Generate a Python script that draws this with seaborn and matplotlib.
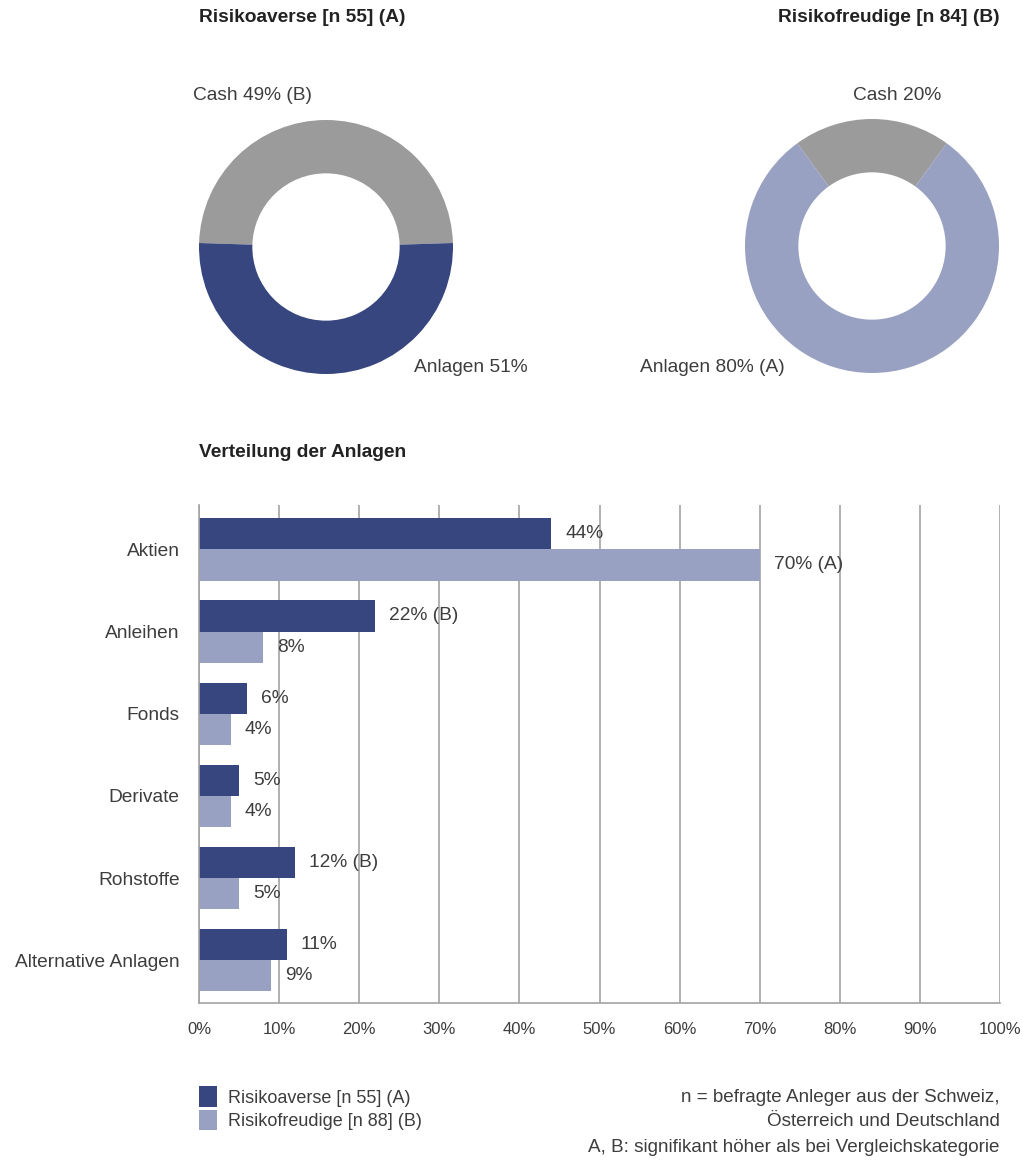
import matplotlib
matplotlib.use("Agg")
import matplotlib.pyplot as plt
import seaborn as sns
import pandas as pd
from matplotlib.patches import Patch

# --- data -------------------------------------------------------------
categories = ["Aktien", "Anleihen", "Fonds", "Derivate", "Rohstoffe", "Alternative Anlagen"]
averse_values = [44, 22, 6, 5, 12, 11]
freudige_values = [70, 8, 4, 4, 5, 9]
averse_labels = ["44%", "22% (B)", "6%", "5%", "12% (B)", "11%"]
freudige_labels = ["70% (A)", "8%", "4%", "4%", "5%", "9%"]

series_names = ["Risikoaverse [n 55] (A)", "Risikofreudige [n 88] (B)"]

averse_split = [49, 51]      # Cash, Anlagen
freudige_split = [20, 80]    # Cash, Anlagen

x_ticks = [0, 10, 20, 30, 40, 50, 60, 70, 80, 90, 100]
x_tick_labels = [f"{t}%" for t in x_ticks]

# --- style -------------------------------------------------------------
NAVY = "#37467f"
LIGHT = "#98a1c1"
GREY = "#9b9b9b"
TEXT = "#3d3d3d"
GRID = "#a3a3a3"
FS = 13.8

sns.set_theme(style="white")
plt.rcParams["font.family"] = ["Liberation Sans", "DejaVu Sans"]

W, H = 1023, 1163
fig = plt.figure(figsize=(W / 100, H / 100), dpi=100)


def fx(px):
    return px / W


def fy(py):
    return 1 - py / H


# --- donut charts ------------------------------------------------------
def donut(cx, cy, r, split, colors):
    ax = fig.add_axes([fx(cx - r), fy(cy + r), fx(2 * r), 2 * r / H])
    cash = split[0]
    start = 90 - cash / 100 * 360 / 2
    ax.pie(split, colors=colors, startangle=start, counterclock=True,
           radius=1.0, wedgeprops=dict(width=0.42, linewidth=0))
    ax.set_xlim(-1, 1)
    ax.set_ylim(-1, 1)
    ax.set_aspect("equal")
    ax.axis("off")
    return ax


donut(326, 247, 127, averse_split, [GREY, NAVY])
donut(872, 246, 127, freudige_split, [GREY, LIGHT])

fig.text(fx(199), fy(18), "Risikoaverse [n 55] (A)",
         fontsize=FS, fontweight="bold", color="#222222", va="center", ha="left")
fig.text(fx(1000), fy(18), "Risikofreudige [n 84] (B)",
         fontsize=FS, fontweight="bold", color="#222222", va="center", ha="right")

fig.text(fx(193), fy(95), f"Cash {averse_split[0]}% (B)", fontsize=FS,
         color=TEXT, va="center", ha="left")
fig.text(fx(414), fy(368), f"Anlagen {averse_split[1]}%", fontsize=FS,
         color=TEXT, va="center", ha="left")
fig.text(fx(853), fy(95), f"Cash {freudige_split[0]}%", fontsize=FS,
         color=TEXT, va="center", ha="left")
fig.text(fx(640), fy(368), f"Anlagen {freudige_split[1]}% (A)", fontsize=FS,
         color=TEXT, va="center", ha="left")

# --- bar chart ---------------------------------------------------------
fig.text(fx(199), fy(452), "Verteilung der Anlagen", fontsize=FS,
         fontweight="bold", color="#222222", va="center", ha="left")

df = pd.DataFrame({
    "Kategorie": categories * 2,
    "Anteil": averse_values + freudige_values,
    "Gruppe": [series_names[0]] * len(categories) + [series_names[1]] * len(categories),
})

ax = fig.add_axes([fx(199), fy(1003), fx(1000) - fx(199), (1003 - 505) / H])
sns.barplot(data=df, y="Kategorie", x="Anteil", hue="Gruppe", orient="h",
            palette=[NAVY, LIGHT], width=0.76, saturation=1, ax=ax,
            legend=False, linewidth=0)

for container, labels in zip(ax.containers, [averse_labels, freudige_labels]):
    ax.bar_label(container, labels=labels, padding=10, fontsize=FS,
                 color=TEXT)

ax.set_xlim(0, 100)
ax.set_ylim(5.52, -0.54)
ax.set_xticks(x_ticks)
ax.set_xticklabels(x_tick_labels, fontsize=12, color=TEXT)
ax.set_xlabel("")
ax.set_ylabel("")
ax.tick_params(axis="y", which="major", length=0, pad=14, labelsize=FS,
               labelcolor=TEXT)
ax.set_yticks([i + 0.5 for i in range(-1, len(categories))], minor=True)
ax.tick_params(axis="y", which="minor", length=8, width=1.2, color=GRID,
               direction="out")
ax.tick_params(axis="x", which="major", length=8, width=1.2, color=GRID,
               direction="out", pad=6)

ax.grid(axis="x", color=GRID, linewidth=1.2)
ax.grid(axis="y", visible=False)
ax.set_axisbelow(True)
for side in ["top", "right"]:
    ax.spines[side].set_visible(False)
for side in ["left", "bottom"]:
    ax.spines[side].set_color(GRID)
    ax.spines[side].set_linewidth(1.2)

# --- legend and notes --------------------------------------------------
handles = [Patch(facecolor=NAVY, edgecolor="none"),
           Patch(facecolor=LIGHT, edgecolor="none")]
fig.legend(handles, series_names, loc="upper left",
           bbox_to_anchor=(fx(185), fy(1072)), frameon=False,
           fontsize=13, handlelength=1.0, handleheight=1.35,
           handletextpad=0.6, labelspacing=0.18, labelcolor=TEXT,
           borderpad=0.3)

notes = ["n = befragte Anleger aus der Schweiz,",
         "Österreich und Deutschland",
         "A, B: signifikant höher als bei Vergleichskategorie"]
for i, line in enumerate(notes):
    fig.text(fx(1000), fy(1097 + 25 * i), line, fontsize=13.6, color=TEXT,
             va="center", ha="right")

fig.savefig("out.png", dpi=100, facecolor="white")
